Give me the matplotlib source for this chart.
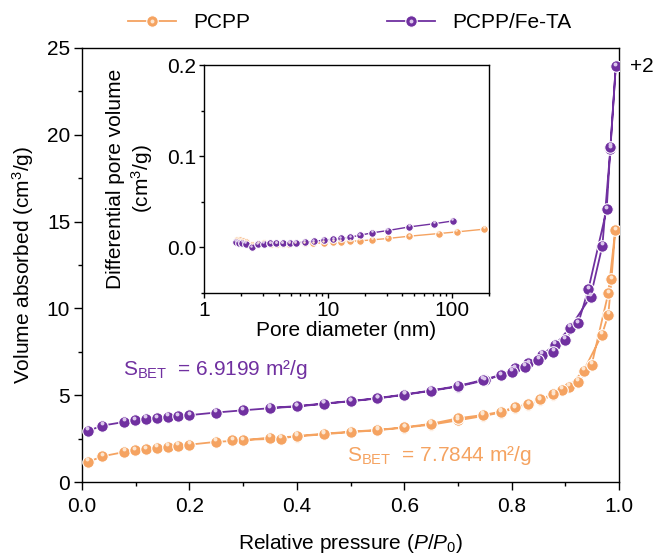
import numpy as np
import matplotlib
matplotlib.use("Agg")
import matplotlib.pyplot as plt
from matplotlib.ticker import MultipleLocator
from matplotlib.transforms import offset_copy
from matplotlib.legend_handler import HandlerTuple

plt.rcParams['font.family'] = ['Liberation Sans', 'DejaVu Sans']
plt.rcParams['font.size'] = 15
plt.rcParams['mathtext.fontset'] = 'custom'
plt.rcParams['mathtext.rm'] = 'Liberation Sans'
plt.rcParams['mathtext.it'] = 'Liberation Sans:italic'

ORANGE = '#F5A361'
PURPLE = '#7030A0'
ORANGE_HI = '#FDE6D0'
PURPLE_HI = '#DCC8EC'

# N2 isotherms, relative pressure vs volume (cm3/g)
pcpp_p_ads = [0.011, 0.038, 0.079, 0.099, 0.119, 0.140, 0.160, 0.179, 0.200, 0.249,
              0.300, 0.350, 0.400, 0.450, 0.500, 0.550, 0.600, 0.650, 0.700, 0.747,
              0.780, 0.806, 0.831, 0.853, 0.878, 0.906, 0.934, 0.968, 0.980, 0.986, 0.993]
pcpp_v_ads = [1.15, 1.48, 1.73, 1.83, 1.88, 1.98, 2.04, 2.10, 2.15, 2.31,
              2.40, 2.56, 2.62, 2.75, 2.87, 2.98, 3.13, 3.30, 3.55, 3.80,
              4.00, 4.25, 4.45, 4.70, 5.00, 5.50, 6.40, 8.47, 9.62, 11.68, 14.50]
pcpp_p_des = [0.980, 0.949, 0.924, 0.893, 0.878, 0.853, 0.831, 0.806, 0.780, 0.747,
              0.700, 0.650, 0.600, 0.550, 0.500, 0.450, 0.400, 0.370, 0.280]
pcpp_v_des = [10.87, 6.74, 5.78, 5.30, 5.07, 4.76, 4.49, 4.30, 4.05, 3.86,
              3.67, 3.35, 3.15, 3.00, 2.90, 2.78, 2.65, 2.50, 2.40]

# PCPP/Fe-TA, drawn shifted up by FETA_SHIFT
FETA_SHIFT = 2
feta_p_ads = [0.011, 0.038, 0.079, 0.099, 0.119, 0.140, 0.160, 0.179, 0.200, 0.249,
              0.300, 0.350, 0.400, 0.450, 0.500, 0.550, 0.600, 0.650, 0.700, 0.750,
              0.780, 0.806, 0.831, 0.856, 0.881, 0.909, 0.947, 0.969, 0.984, 0.994]
feta_v_ads = [0.94, 1.25, 1.46, 1.56, 1.63, 1.67, 1.75, 1.79, 1.85, 2.00,
              2.13, 2.25, 2.35, 2.50, 2.65, 2.81, 3.02, 3.25, 3.50, 3.85,
              4.16, 4.55, 4.84, 5.32, 5.90, 6.89, 8.67, 11.60, 17.20, 21.96]
feta_p_des = [0.984, 0.977, 0.943, 0.924, 0.899, 0.878, 0.850, 0.825, 0.800, 0.747,
              0.700, 0.650, 0.600, 0.550, 0.500, 0.450, 0.400, 0.350]
feta_v_des = [17.30, 13.70, 9.10, 7.14, 6.18, 5.50, 5.03, 4.64, 4.35, 3.88,
              3.53, 3.27, 3.04, 2.83, 2.66, 2.52, 2.37, 2.27]

# BJH pore size distribution, pore diameter (nm) vs dV/dD (cm3/g)
pcpp_d = [1.85, 1.95, 2.05, 2.20, 2.45, 2.75, 3.05, 3.45, 3.85, 4.35, 4.90, 5.55,
          6.50, 7.65, 9.30, 11.1, 12.8, 15.2, 18.2, 22.9, 30.5, 45.6, 78.5, 110, 183]
pcpp_dv = [0.008, 0.008, 0.007, 0.006, 0.003, 0.004, 0.005, 0.004, 0.004, 0.004, 0.004, 0.0045,
           0.0045, 0.0045, 0.005, 0.006, 0.006, 0.0068, 0.0072, 0.0083, 0.0098, 0.0123, 0.0152, 0.017, 0.020]
feta_d = [1.80, 1.91, 2.04, 2.19, 2.44, 2.72, 3.05, 3.43, 3.83, 4.34, 4.91, 5.55,
          6.49, 7.66, 9.28, 11.1, 12.8, 15.2, 18.2, 22.9, 30.5, 45.6, 72.4, 102]
feta_dv = [0.0062, 0.0047, 0.005, 0.004, 0.0, 0.0033, 0.004, 0.0043, 0.0043, 0.0043, 0.0047, 0.0051,
           0.0058, 0.0065, 0.008, 0.009, 0.0098, 0.0112, 0.0134, 0.016, 0.0185, 0.0225, 0.026, 0.029]

pcpp_p = np.concatenate([pcpp_p_ads, pcpp_p_des])
pcpp_v = np.concatenate([pcpp_v_ads, pcpp_v_des])
feta_p = np.concatenate([feta_p_ads, feta_p_des])
feta_v = np.concatenate([feta_v_ads, feta_v_des]) + FETA_SHIFT


def sphere_plot(ax, x, y, color, hi_color, ms, lw):
    # ball markers: filled circle plus a small light spot near the top
    line, = ax.plot(x, y, '-o', color=color, lw=lw, ms=ms, mfc=color,
                    mec='white', mew=0.8, zorder=3)
    hi_tr = offset_copy(ax.transData, fig=ax.figure, x=-0.5, y=ms * 0.22, units='points')
    hi, = ax.plot(x, y, 'o', ms=ms * 0.34, mfc=hi_color, mec='none',
                  transform=hi_tr, zorder=4)
    return line, hi


def style_axis(ax, major_len, minor_len, pad):
    for s in ax.spines.values():
        s.set_linewidth(1.0)
    ax.tick_params(which='major', direction='out', length=major_len, width=1.0, pad=pad)
    ax.tick_params(which='minor', direction='out', length=minor_len, width=1.0)


fig = plt.figure(figsize=(6.56, 5.58), dpi=100)
ax = fig.add_axes([0.125, 0.1362, 0.8186, 0.7778])

h_pcpp = sphere_plot(ax, pcpp_p, pcpp_v, ORANGE, ORANGE_HI, 8.3, 1.3)
h_feta = sphere_plot(ax, feta_p, feta_v, PURPLE, PURPLE_HI, 8.3, 1.3)

ax.set_xlim(0, 1)
ax.set_ylim(0, 25)
ax.xaxis.set_major_locator(MultipleLocator(0.2))
ax.xaxis.set_minor_locator(MultipleLocator(0.1))
ax.yaxis.set_major_locator(MultipleLocator(5))
ax.yaxis.set_minor_locator(MultipleLocator(2.5))
ax.xaxis.set_major_formatter(lambda v, pos: f'{v:.1f}')
style_axis(ax, 5.5, 3, 3)
ax.tick_params(axis='x', which='major', pad=5)
ax.set_xlabel(r'Relative pressure ($\mathit{P/P_0}$)', labelpad=12)
ax.set_ylabel(r'Volume absorbed (cm$^\mathregular{3}$/g)', labelpad=8)

ax.text(0.077, 6.5, r'S$_\mathregular{BET}$  = 6.9199 m²/g', color=PURPLE,
        va='center', ha='left')
ax.text(0.493, 1.55, r'S$_\mathregular{BET}$  = 7.7844 m²/g', color=ORANGE,
        va='center', ha='left')
ax.text(1.02, feta_v[len(feta_p_ads) - 1], f'+{FETA_SHIFT}', va='center', ha='left',
        clip_on=False)

# pore size distribution inset
ins = fig.add_axes([0.311, 0.4749, 0.4344, 0.4086])
sphere_plot(ins, pcpp_d, pcpp_dv, ORANGE, ORANGE_HI, 5.5, 1.0)
sphere_plot(ins, feta_d, feta_dv, PURPLE, PURPLE_HI, 5.5, 1.0)
ins.set_xscale('log')
ins.set_xlim(1, 200)
ins.set_ylim(-0.05, 0.2)
ins.yaxis.set_major_locator(MultipleLocator(0.1))
ins.yaxis.set_minor_locator(MultipleLocator(0.05))
ins.yaxis.set_major_formatter(lambda v, pos: f'{v:.1f}')
ins.xaxis.set_major_formatter(lambda v, pos: f'{v:g}')
style_axis(ins, 3.5, 2, 2)
ins.set_xlabel('Pore diameter (nm)', labelpad=1)
ins.set_ylabel('Differential pore volume\n' + r'(cm$^\mathregular{3}$/g)', labelpad=9)

fig.legend([h_pcpp, h_feta], ['PCPP', 'PCPP/Fe-TA'],
           handler_map={tuple: HandlerTuple(ndivide=1, pad=0)},
           loc='center', bbox_to_anchor=(0.533, 0.959), ncol=2, frameon=False,
           numpoints=1, handlelength=2.3, handletextpad=0.8, columnspacing=6.6,
           fontsize=15)

fig.savefig('out.png', dpi=100)
